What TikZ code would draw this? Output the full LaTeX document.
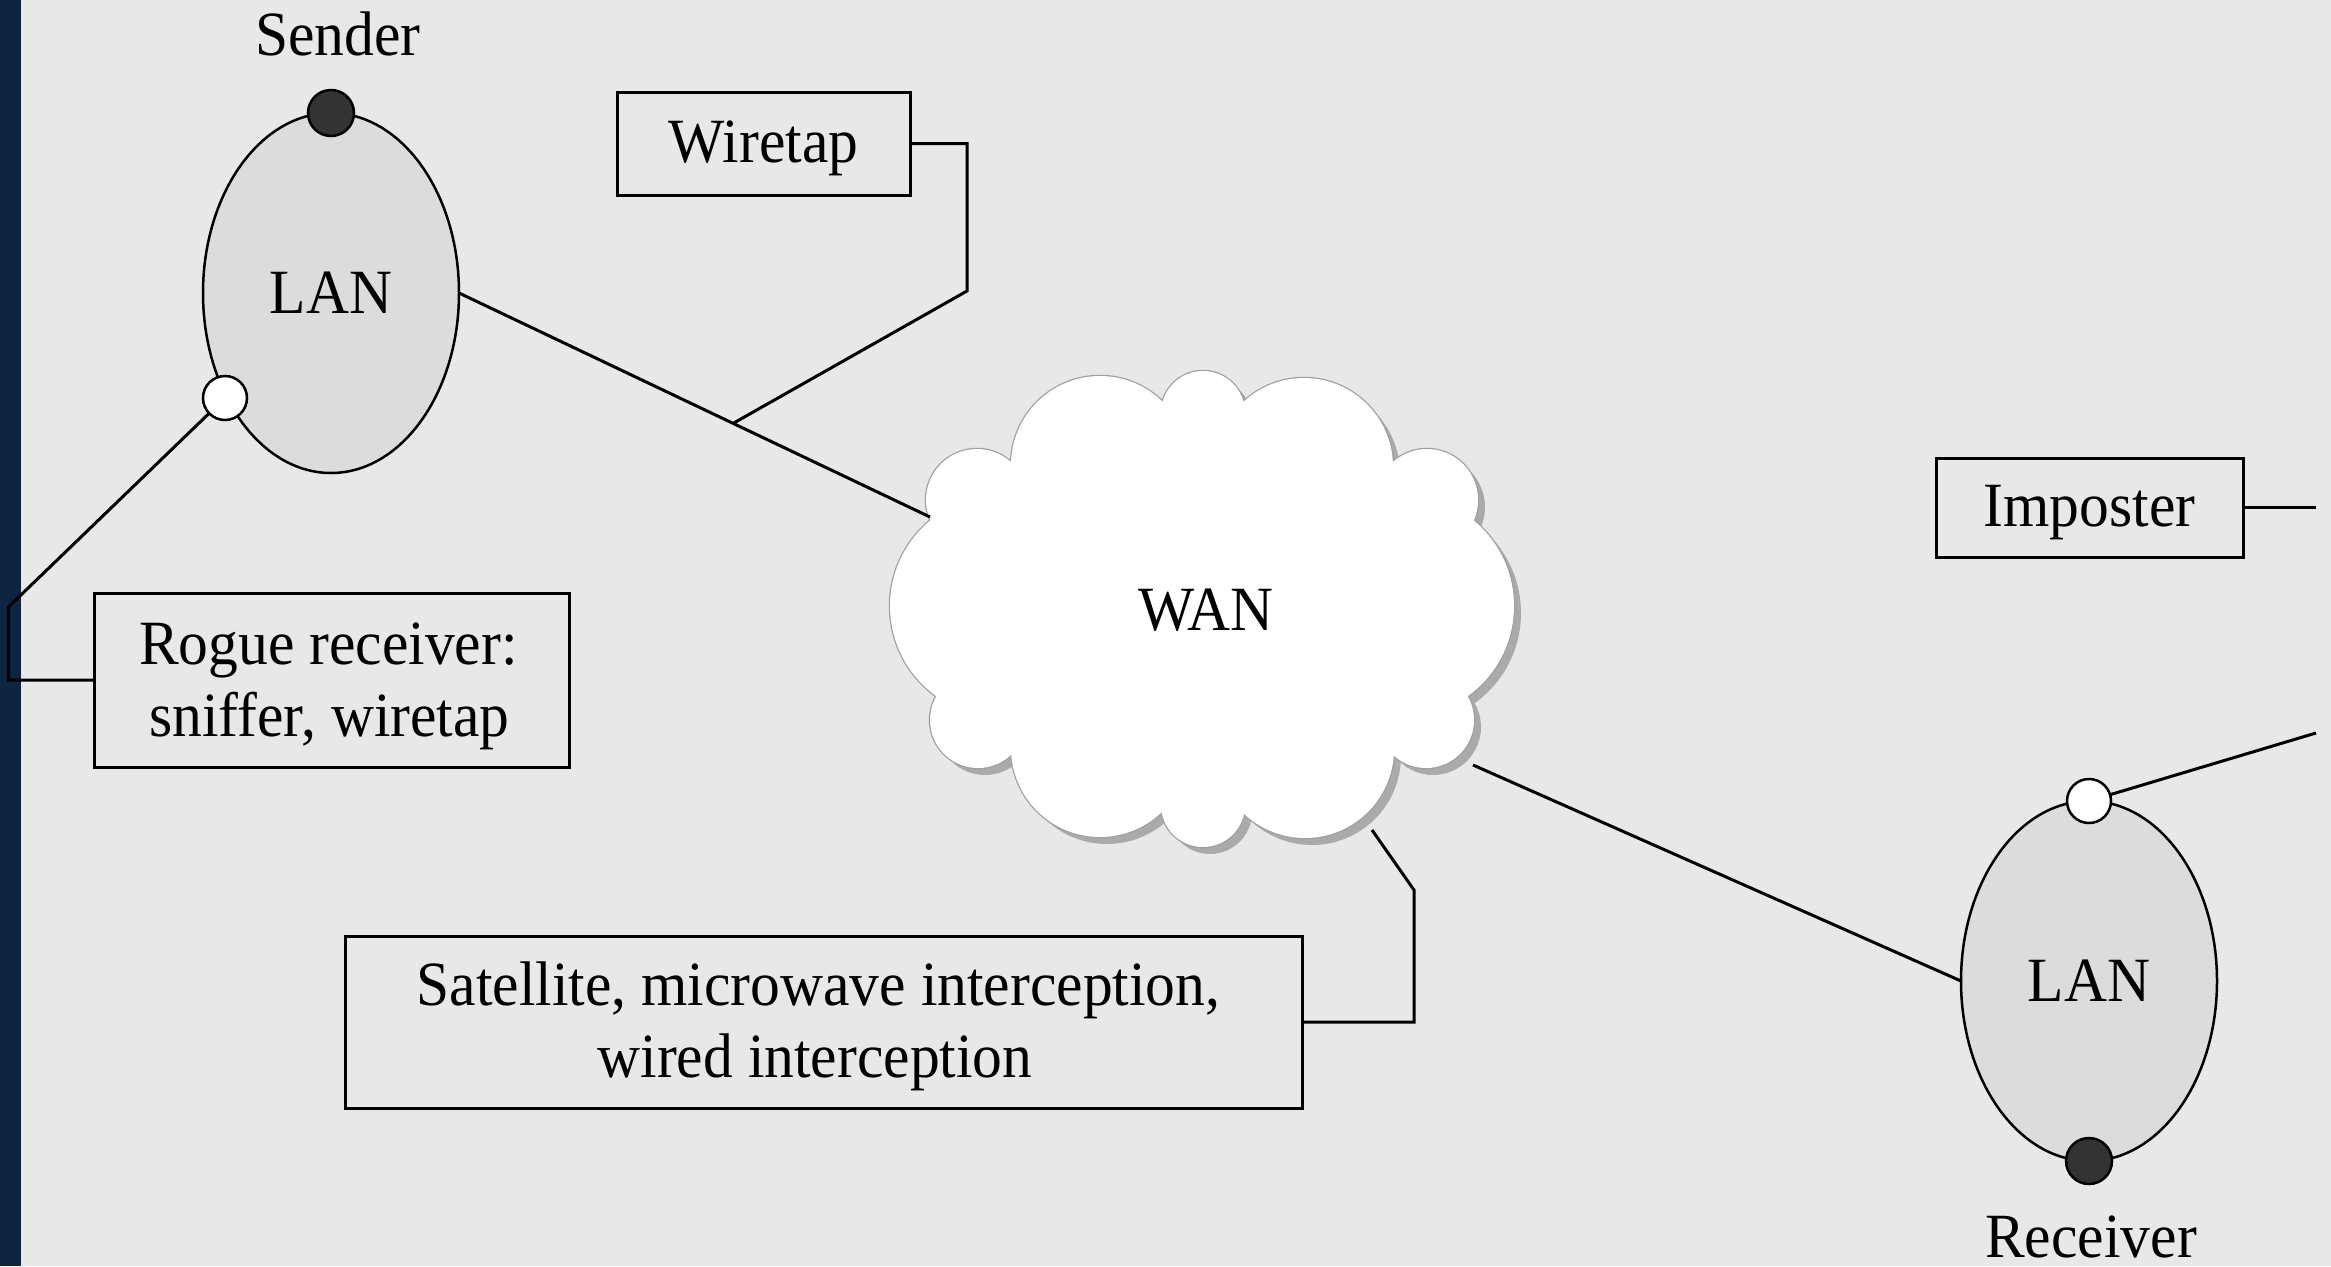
\documentclass[tikz,border=0pt]{standalone}
\usepackage{fontspec}
\setmainfont{Liberation Serif}[FakeStretch=0.945]
\usetikzlibrary{shapes.geometric,calc}
\definecolor{bg}{HTML}{E8E8E8}
\definecolor{sidebar}{HTML}{0E2541}
\definecolor{lanfill}{HTML}{DCDCDC}
\definecolor{dotdark}{HTML}{333333}
\definecolor{cloudedge}{HTML}{A0A0A0}
\definecolor{cloudshadow}{HTML}{AAAAAA}

% puffs of the WAN cloud: centre x / centre y / radius
\newcommand\wanpuffs{1203/413/42, 1100/465/89, 1304/467/89, 977/500/51,
  1427/500/51, 1001/606/111, 1403/606/111, 978/720/48, 1426/720/48,
  1100/748/89, 1203/805/42, 1305/749/89}

\begin{document}
\begin{tikzpicture}[x=1pt,y=-1pt,
  every node/.style={font=\fontsize{63}{72.5}\selectfont, inner sep=0pt, outer sep=0pt},
  lan/.style={ellipse, draw, line width=2.5pt, fill=lanfill,
    minimum width=256pt, minimum height=360pt},
  enddot/.style={circle, draw, line width=2.5pt, minimum size=46pt, fill=dotdark},
  tapdot/.style={circle, draw, line width=2.5pt, minimum size=44pt, fill=white},
  labelbox/.style={rectangle, draw, line width=3pt, text height=38pt, text depth=0pt},
  wire/.style={line width=3pt, line join=miter}]

% canvas and side bar
\useasboundingbox (0,0) rectangle (2331,1266);
\fill[bg] (0,0) rectangle (2331,1266);
\fill[sidebar] (0,0) rectangle (21,1266);

% WAN cloud: shadow, rim, body
\begin{scope}[shift={(7,7)}]
  \fill[cloudshadow] (1202,609) ellipse[x radius=230, y radius=165];
  \foreach \cx/\cy/\r in \wanpuffs { \fill[cloudshadow] (\cx,\cy) circle[radius=\r]; }
\end{scope}
\foreach \cx/\cy/\r in \wanpuffs { \draw[cloudedge, line width=2.5pt] (\cx,\cy) circle[radius=\r]; }
\fill[white] (1202,609) ellipse[x radius=230, y radius=165];
\foreach \cx/\cy/\r in \wanpuffs { \fill[white] (\cx,\cy) circle[radius=\r]; }
\node (wan) at (1206,610.5) {WAN};

% points where links meet the cloud
\coordinate (wanL) at (930,517);
\coordinate (wanR) at (1473,765);
\coordinate (wanS) at (1372,830);

% sending side
\node[lan] (lanA) at (331,293) {LAN};
\node[enddot] (sendDot) at (lanA.north) {};
\node[tapdot] (rogueDot) at (225,398) {};
\node[anchor=base] (sender) at (338,55) {Sender};

% receiving side
\node[lan] (lanB) at (2089,981) {LAN};
\node[tapdot] (impDot) at (lanB.north) {};
\node[enddot] (recvDot) at (lanB.south) {};
\node[anchor=base] (receiver) at (2091,1257) {Receiver};

% threat boxes
\node[labelbox, minimum width=293pt, minimum height=103pt] (wiretap) at (763.5,143.5) {Wiretap};
\node[labelbox, minimum width=307pt, minimum height=99pt] (imposter) at (2089.5,507.5) {Imposter};
\node[labelbox, minimum width=475pt, minimum height=174pt] (rogue) at (331.5,680) {};
\node[anchor=base] (rogueL1) at (328.5,664) {Rogue receiver:};
\node[anchor=base] (rogueL2) at (329.5,736.5) {sniffer, wiretap};
\node[labelbox, minimum width=957pt, minimum height=172pt] (sat) at (823.5,1022) {};
\node[anchor=base] (satL1) at (818.5,1005) {Satellite, microwave interception,};
\node[anchor=base] (satL2) at (815,1077.5) {wired interception};

% links
\draw[wire] (lanA.east) -- (wanL);
\draw[wire] (wanR) -- (lanB.west);
\coordinate (tapJ) at ($(lanA.east)!0.582!(wanL)$);
\draw[wire] (wiretap.east) -- (967,143.5) -- (967,291) -- (tapJ);
\coordinate (rogueBend) at (8.5,607);
\draw[wire] (rogueDot) -- (rogueBend) -- (8.5,680) -- (rogue.west);
\draw[wire] (sat.east) -- (1414,1022) -- (1414,890) -- (wanS);
\coordinate (impEnd) at (2316,507.5);
\draw[wire] (imposter.east) -- (impEnd);
\coordinate (impLink) at (2316,733);
\draw[wire] (impDot) -- (impLink);
\end{tikzpicture}
\end{document}
